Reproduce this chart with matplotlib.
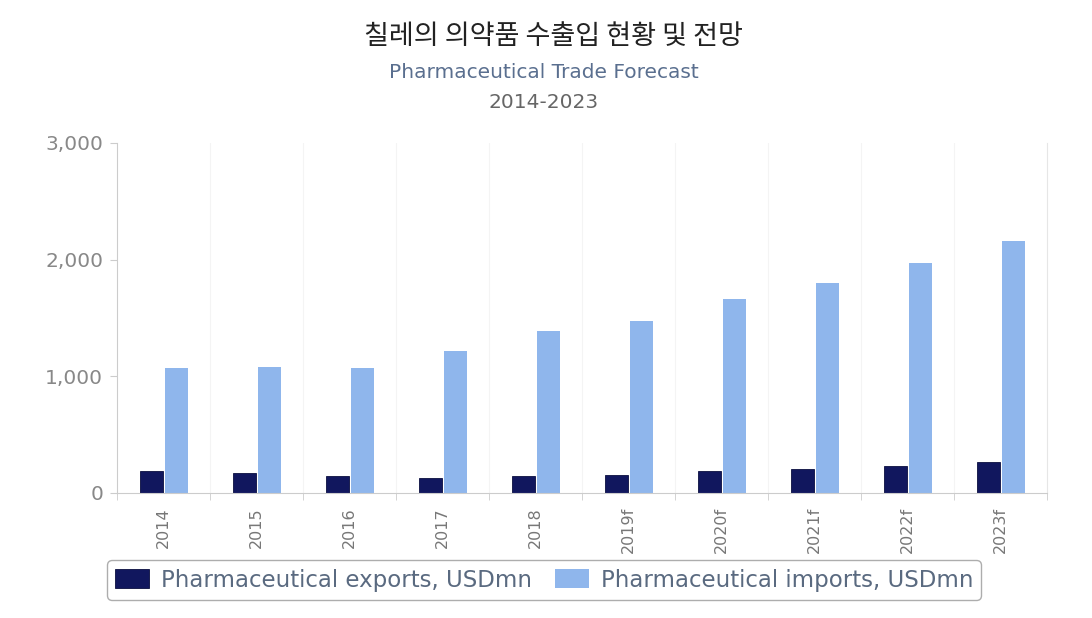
import numpy as np
import matplotlib.pyplot as plt
import matplotlib as mpl

years = ['2014', '2015', '2016', '2017', '2018', '2019f', '2020f', '2021f', '2022f', '2023f']
exports = [189, 171, 146, 129, 146, 154, 189, 206, 231, 266]
imports = [1071, 1080, 1071, 1217, 1389, 1474, 1663, 1800, 1971, 2160]

plt.rcParams['font.family'] = ['DejaVu Sans', 'Noto Sans CJK KR']

fig = plt.figure(figsize=(10.92, 6.18), dpi=100)
ax = fig.add_axes([117 / 1092, 1 - 493 / 618, 930 / 1092, 350 / 618])

x = np.arange(len(years))
w = 0.24
ax.bar(x - 0.13, exports, w, color='#11175e', edgecolor='#0a0e40', linewidth=0.6,
       label='Pharmaceutical exports, USDmn')
ax.bar(x + 0.14, imports, w, color='#8fb6ec', label='Pharmaceutical imports, USDmn')

ax.set_xlim(-0.5, len(years) - 0.5)
ax.set_ylim(0, 3000)
ax.set_yticks([0, 1000, 2000, 3000])
ax.set_yticklabels(['0', '1,000', '2,000', '3,000'])
ax.set_xticks(x)
ax.set_xticklabels(years, rotation=90)
ax.set_xticks(np.arange(len(years) + 1) - 0.5, minor=True)
for b in np.arange(1, len(years)) - 0.5:
    ax.axvline(b, color='#f4f4f4', lw=0.8, zorder=0)

ax.tick_params(axis='x', which='major', length=0, pad=10, labelsize=11.5, labelcolor='#777777')
ax.tick_params(axis='x', which='minor', length=5, color='#cccccc')
ax.tick_params(axis='y', length=5, color='#cccccc', labelsize=14.5, labelcolor='#888888', pad=5)
for s in ['left', 'bottom']:
    ax.spines[s].set_color('#cccccc')
ax.spines['top'].set_visible(False)
ax.spines['right'].set_color('#e6e6e6')

fig.text(553 / 1092, 1 - 37 / 618, '칠레의 의약품 수출입 현황 및 전망', ha='center', va='center',
         fontsize=19.5, color='#222222', family=['Noto Sans CJK KR', 'DejaVu Sans'])
fig.text(544 / 1092, 1 - 73 / 618, 'Pharmaceutical Trade Forecast', ha='center', va='center',
         fontsize=14.5, color='#5a6f8f')
fig.text(544 / 1092, 1 - 102 / 618, '2014-2023', ha='center', va='center',
         fontsize=14.5, color='#666666')

leg = fig.legend(loc='center', bbox_to_anchor=(544 / 1092, 1 - 580 / 618), ncol=2,
                 fontsize=16.5, frameon=True, fancybox=True, edgecolor='#999999',
                 handlelength=1.5, handleheight=0.85, handletextpad=0.5,
                 columnspacing=1.0, labelcolor='#5a6a80', borderpad=0.35,
                 borderaxespad=0)

fig.savefig('out.png', dpi=100)
